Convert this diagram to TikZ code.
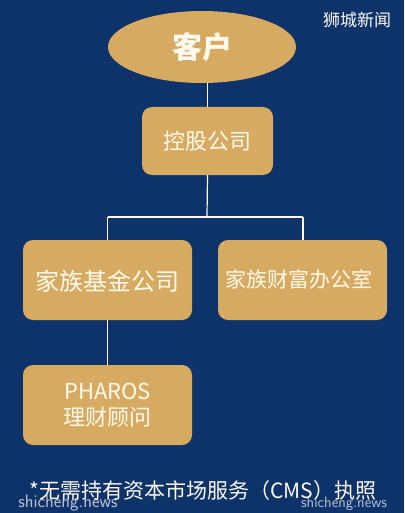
\documentclass[tikz,border=0pt]{standalone}
\usepackage{fontspec}
\setmainfont{Noto Sans CJK SC}
\usetikzlibrary{shapes.geometric}
\definecolor{navy}{RGB}{14,50,106}
\definecolor{gold}{RGB}{214,170,96}
\definecolor{cream}{RGB}{255,250,238}
\begin{document}
\begin{tikzpicture}[x=1pt,y=-1pt,
  box/.style={draw=none,fill=gold,rounded corners=10pt,inner sep=0pt,text=cream,align=center},
  link/.style={draw=cream,line width=1.2pt}]
\fill[navy] (0,0) rectangle (404,513);
\useasboundingbox (0,0) rectangle (404,513);
\node[ellipse,fill=gold,minimum width=188pt,minimum height=72pt,inner sep=0pt,text=cream,font=\fontsize{30}{30}\selectfont\bfseries] (client) at (202,47) {客户};
\node[text=cream,font=\fontsize{17}{17}\selectfont] (logo) at (357,20) {狮城新闻};
\node[box,minimum width=131pt,minimum height=68pt,font=\fontsize{22}{22}\selectfont] (hold) at (207.5,141) {控股公司};
\node[box,minimum width=169pt,minimum height=80pt] (fund) at (107.5,280) {};
\node[text=cream,font=\fontsize{24}{24}\selectfont] (fundt) at (107.5,281) {家族基金公司};
\node[box,minimum width=169pt,minimum height=80pt] (office) at (302.5,280) {};
\node[text=cream,font=\fontsize{21}{21}\selectfont] (officet) at (299,279) {家族财富办公室};
\node[box,minimum width=169pt,minimum height=80pt,font=\fontsize{22}{26}\selectfont] (pharos) at (107.5,405) {PHAROS\\理财顾问};
\coordinate (split) at (207,217);
\coordinate (lft) at (107.5,217);
\coordinate (rgt) at (303,217);
\draw[link] (client.south -| hold.north) -- (hold.north);
\draw[link] (hold.south) -- (split);
\draw[link] (lft) -- (rgt);
\draw[link] (lft) -- (fund.north);
\draw[link] (rgt) -- (rgt |- office.north);
\draw[link] (fund.south) -- (pharos.north);
\node[text=cream,font=\fontsize{21}{21}\selectfont] (note) at (203,491) {*无需持有资本市场服务（CMS）执照};
\node[text=white,opacity=0.7,font=\fontsize{18}{18}\selectfont\sffamily] (wm1) at (68,503) {shicheng.news};
\node[text=white,opacity=0.7,font=\fontsize{15}{15}\selectfont\sffamily] (wm2) at (344,504) {shicheng.news};
\end{tikzpicture}
\end{document}
